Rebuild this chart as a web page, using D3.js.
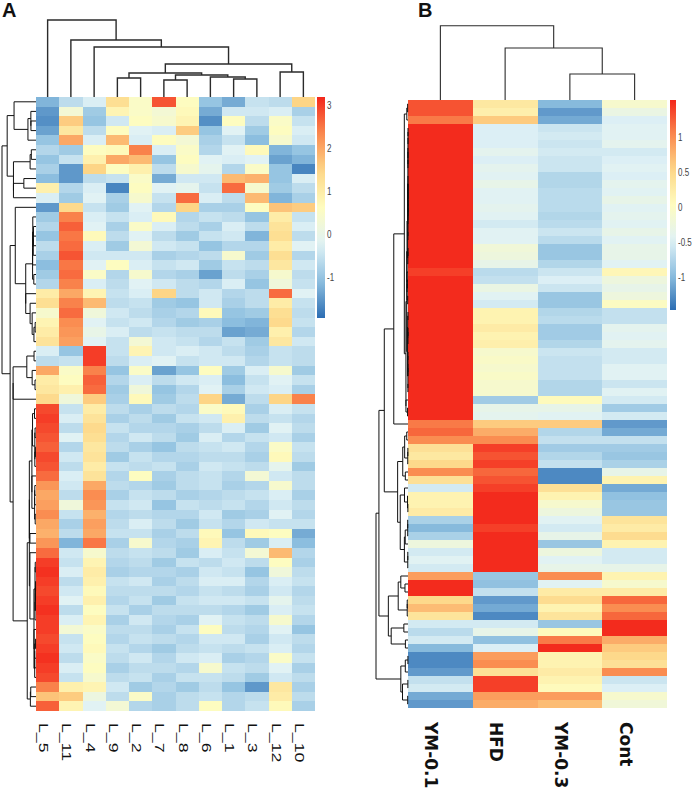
<!DOCTYPE html>
<html>
<head>
<meta charset="utf-8">
<script src="https://cdn.jsdelivr.net/npm/d3@7"></script>
<style>
body{margin:0;background:#fff;}
svg{display:block;font-family:"Liberation Sans",Arial,sans-serif;}
</style>
</head>
<body>
<svg id="chart" width="699" height="792"></svg>
<script>
// ---- panel A data (rows top to bottom, columns in dendrogram order)
var colsA = ["L_5","L_11","L_4","L_9","L_2","L_7","L_8","L_6","L_1","L_3","L_12","L_10"];
var rowsA = [
 [-1.2,-0.6,-0.3, 1.3, 0.5, 2.8, 0.6,-1.0,-1.3,-0.5,-0.6, 1.5],
 [-1.5, 0.3,-0.9, 0.8, 0.5, 0.3, 0.7,-1.3,-0.4,-0.4,-0.3,-0.8],
 [-1.6, 1.6,-1.0,-0.4, 0.6, 0.4, 0.8,-1.6, 0.6,-0.6, 0.5,-0.5],
 [-1.4, 1.1,-0.6, 0.6,-0.2,-0.3, 1.6,-1.0,-0.2,-0.9, 0.6,-0.3],
 [-1.0, 2.0,-0.3, 1.8,-0.3, 0.6, 0.3,-0.8,-0.5,-1.1, 0.4,-0.4],
 [-0.7,-0.9, 0.6, 0.7, 2.4,-0.3, 0.5,-0.7,-0.2, 0.7,-1.2,-1.0],
 [-1.0,-0.5, 0.9, 2.0, 1.8,-1.0, 0.6,-0.2,-0.3,-0.2,-1.4,-1.2],
 [-0.8,-1.5, 1.5, 0.6, 0.9,-0.6, 0.4,-0.1,-0.7, 0.5,-1.0,-1.7],
 [-1.1,-1.5,-0.6,-0.5, 0.5,-1.3,-0.4,-0.4, 1.8, 1.9,-1.0,-0.3],
 [ 0.9,-0.7,-0.3,-1.7, 0.6,-0.2,-0.1,-0.5, 2.6, 0.4,-0.9,-0.6],
 [-0.3,-0.9,-0.2,-0.8, 0.4,-0.5, 2.6,-0.3,-0.6, 1.8,-1.2,-0.8],
 [-1.5, 1.4,-0.5,-0.9,-0.2,-0.7, 1.5,-0.8,-0.8, 0.6, 1.7, 1.6],
 [-0.9, 2.4,-0.3,-0.5,-0.3, 0.7,-0.7,-0.5,-0.6,-1.0, 1.0,-0.5],
 [-0.7, 2.7,-0.2,-0.8, 0.5,-0.3,-0.6,-0.8,-0.3,-0.6, 1.2,-0.3],
 [-1.0, 2.5, 0.7,-0.6,-0.2,-0.6,-0.9,-0.5,-0.4,-1.2, 1.3,-0.6],
 [-0.6, 2.6,-0.3,-0.9, 0.3,-0.4,-0.5,-1.0,-0.7,-0.7, 1.0,-0.2],
 [-0.8, 2.8,-0.4,-0.4,-0.4,-0.8,-0.7,-0.6, 0.4,-0.9, 1.3,-0.7],
 [-1.1, 2.5,-0.2, 0.6,-0.3,-0.5,-0.4,-0.9,-0.5,-0.6, 1.1,-0.4],
 [-0.9, 2.6, 0.5,-0.7, 0.4,-0.7,-0.8,-1.4,-0.6,-0.8, 0.4,-0.6],
 [-0.7, 2.4,-0.3,-0.6,-0.2,-0.4,-0.6,-0.7,-0.3,-1.0, 0.2,-0.5],
 [ 1.0, 2.0, 0.8,-0.5,-0.3, 1.5,-0.6,-0.4,-0.7,-0.6, 2.6,-0.2],
 [ 1.3, 2.4, 1.8,-0.6,-0.5,-0.9,-1.0,-0.4,-0.8,-0.6, 1.0,-0.5],
 [ 0.4, 2.6, 0.2,-0.4,-0.6,-0.8,-0.7, 0.7,-1.0,-0.9, 1.3,-0.6],
 [ 0.8, 2.3,-0.2,-0.5,-0.4,-0.7,-0.9,-0.8,-1.1,-1.2, 1.4,-0.5],
 [ 1.0, 2.2, 0.0,-0.3,-0.6,-0.5,-0.6,-0.6,-1.4,-1.3, 0.9,-0.7],
 [ 1.2, 2.1,-0.2,-0.5, 0.3,-0.4,-0.5,-0.7,-0.5,-0.9, 1.1,-0.4],
 [-0.3,-1.0, 3.0,-0.5, 0.8,-0.4,-0.3,-0.4,-0.6,-0.8,-0.5,-0.6],
 [-0.6,-0.5, 3.0,-0.6,-0.3,-0.2,-0.5,-0.4,-0.4,-0.7,-0.5,-0.6],
 [ 2.0, 0.5, 2.4,-1.0, 0.5,-1.4,-1.0, 0.6,-0.9,-0.3, 0.4,-0.9],
 [ 1.0, 0.6, 2.7,-0.7,-0.3,-0.6,-0.4,-0.3,-1.1,-0.5,-0.2,-0.5],
 [ 1.1, 0.9, 2.6,-0.9, 0.2,-1.0,-0.7,-0.2,-0.8,-0.4,-0.3,-0.8],
 [ 1.4, 0.2, 1.6,-0.8, 0.7,-0.9,-0.6, 1.5,-1.3,-0.6, 1.5, 2.4],
 [ 2.9,-0.5, 1.0,-0.6,-0.8,-0.6,-0.7, 0.5, 0.7,-0.8,-0.3,-0.5],
 [ 3.0,-0.3, 1.2,-0.8,-0.6,-0.9,-0.5,-0.4, 0.9,-0.6,-0.5,-0.7],
 [ 2.9,-0.6, 1.4,-0.5,-0.7,-0.7,-0.8,-0.6,-0.3,-0.9,-0.2,-0.6],
 [ 2.8,-0.2, 1.3,-0.7,-0.4,-0.6,-0.9,-0.3,-0.7,-0.5,-0.4,-0.8],
 [ 2.7,-0.7, 1.1,-0.6,-0.8,-1.0,-0.6,-0.5,-0.4,-0.7, 0.5,-0.5],
 [ 2.9,-0.4, 1.2,-0.9,-0.5,-0.7,-0.7,-0.6,-0.6,-0.8, 0.7,-0.6],
 [ 2.8,-0.6, 1.0,-0.5,-0.6,-0.5,-0.8,-0.4,-0.5,-0.6,-0.1,-0.9],
 [ 2.6,-0.3, 1.2,-0.7, 0.6,-0.8,-0.6,-0.5,-0.7, 0.3,-0.4,-0.6],
 [ 2.2,-0.4, 2.0,-0.6,-0.7,-0.9,-0.6,-0.5,-0.8,-0.7, 0.4,-0.6],
 [ 2.0,-0.6, 2.3,-0.8,-0.5,-0.6,-0.8,-0.7,-0.6,-0.5,-0.3,-0.8],
 [ 2.1, 0.2, 2.2,-0.5,-0.4,-1.0,-0.5,-0.6,-0.5,-0.7,-0.4,-0.6],
 [ 2.3,-0.5, 1.9,-0.7,-0.6,-0.7,-0.7,-0.4,-0.9,-0.8,-0.2,-0.7],
 [ 2.0,-0.8, 2.1,-0.6,-0.3,-0.6,-0.9,-0.5,-0.7,-0.4,-0.5,-0.5],
 [ 1.9,-0.6, 2.0,-0.5,-0.5,-0.8,-0.6, 0.7,-1.0, 0.7, 0.6,-1.3],
 [ 2.2,-1.2, 2.5,-0.8, 0.4,-0.7,-0.8, 0.8,-0.6,-0.9,-0.3,-1.1],
 [ 2.6,-0.4, 0.4,-0.6,-0.5,-0.6,-0.9,-0.3,-0.5, 0.3, 1.8,-0.7],
 [ 3.0,-0.5, 0.8,-0.7,-0.6,-0.9,-0.5,-0.6,-0.4,-0.6, 0.6,-0.8],
 [ 3.1,-0.3, 1.0,-0.8,-0.7,-0.7,-0.8,-0.4,-0.5,-1.0, 0.2,-0.6],
 [ 3.0,-0.6, 0.9,-0.5,-0.4,-0.8,-0.6,-0.3,-0.3,-0.7,-0.3,-0.5],
 [ 2.9,-0.4, 0.7,-0.6,-0.6,-0.6,-0.7,-0.5,-0.6,-0.8,-0.4,-0.7],
 [ 3.0,-0.2, 0.9,-0.7,-0.5,-0.9,-0.5,-0.4,-0.4,-0.5,-0.1,-0.6],
 [ 3.1,-0.6, 0.6,-0.5,-0.8,-0.6,-0.6,-0.6,-0.7,-0.9,-0.3,-0.5],
 [ 3.0,-0.3, 0.8,-0.8,-0.4,-0.7,-0.8,-0.2,-0.5,-0.6, 0.4,-0.7],
 [ 3.0, 0.3, 0.5,-0.6,-0.6,-0.8,-0.5, 0.6,-0.6,-0.7,-0.2,-1.0],
 [ 2.9,-0.5, 0.6,-0.7,-0.5,-0.6,-0.7,-0.4,-0.4,-0.8,-0.4,-0.6],
 [ 3.0,-0.4, 0.7,-0.5,-0.7,-0.9,-0.6,-0.5,-0.6,-0.5,-0.3,-0.7],
 [ 3.1,-0.6, 0.5,-0.6,-0.4,-0.7,-0.4,-0.3,-0.8,-0.7, 0.5,-0.5],
 [ 3.0,-0.3, 0.6,-0.8,-0.6,-0.6,-0.7, 0.4,-0.5,-0.6,-0.2,-0.8],
 [ 2.9,-0.5, 0.4,-0.6,-0.5,-0.8,-0.5,-0.5,-0.6,-0.9,-0.4,-0.6],
 [ 2.4, 0.9, 0.8,-0.4,-0.9,-0.7,-0.9,-0.6,-1.0,-1.5, 1.1,-0.8],
 [ 1.7, 1.6, 0.1,-0.6, 0.5,-0.8,-0.6,-0.5,-0.7,-0.6, 1.0,-0.6],
 [ 2.7, 0.8,-0.2, 0.3,-0.7,-0.8,-0.6, 0.6,-0.7,-0.5, 0.7,-0.8]
];
var rangeA = [-1.95, 3.19];
var legendTicksA = [3, 2, 1, 0, -1];
// column dendrogram A, merge heights relative to the root
var colTreeA = {h:1.0, children:[{name:"L_5"},{h:0.74, children:[{name:"L_11"},{h:0.649, children:[{name:"L_4"},
  {h:0.429, children:[
    {h:0.312, children:[{h:0.247, children:[{name:"L_9"},{name:"L_2"}]},
      {h:0.286, children:[{h:0.221, children:[{name:"L_7"},{name:"L_8"}]},
        {h:0.26, children:[{name:"L_6"},{h:0.234, children:[{name:"L_1"},{name:"L_3"}]}]}]}]},
    {h:0.325, children:[{name:"L_12"},{name:"L_10"}]}]}]}]}]};

// ---- panel B data
var colsB = ["YM-0.1","HFD","YM-0.3","Cont"];
var rowsB = [
 [1.3, 0.3,-1.0,-0.1],[1.3, 0.2,-1.2,-0.3],[1.1, 0.6,-1.1,-0.5],[1.5,-0.5,-0.6,-0.45],
 [1.5,-0.5,-0.55,-0.45],[1.5,-0.5,-0.6,-0.4],[1.5,-0.4,-0.55,-0.55],[1.5,-0.5,-0.6,-0.5],
 [1.5,-0.4,-0.6,-0.45],[1.5,-0.45,-0.75,-0.5],[1.5,-0.35,-0.75,-0.4],[1.5,-0.45,-0.7,-0.45],
 [1.5,-0.45,-0.7,-0.35],[1.5,-0.4,-0.7,-0.45],[1.5,-0.45,-0.75,-0.4],[1.5,-0.55,-0.7,-0.45],
 [1.5,-0.45,-0.6,-0.35],[1.5,-0.45,-0.7,-0.45],[1.5,-0.2,-0.9,-0.35],[1.5,-0.25,-0.9,-0.35],
 [1.5,-0.35,-0.75,-0.45],[1.4,-0.7,-0.6, 0.1],[1.5,-0.65,-0.5,-0.25],[1.5,-0.3,-0.6,-0.35],
 [1.5,-0.45,-0.9,-0.25],[1.5,-0.55,-0.9, 0.0],[1.5, 0.15,-0.75,-0.65],[1.5, 0.15,-0.7,-0.65],
 [1.5, 0.25,-0.85,-0.4],[1.5, 0.15,-0.85,-0.45],[1.5, 0.2,-0.75,-0.4],[1.5,-0.1,-0.6,-0.55],
 [1.5,-0.05,-0.65,-0.55],[1.5,-0.1,-0.65,-0.45],[1.5,-0.05,-0.65,-0.45],[1.5,-0.1,-0.75,-0.6],
 [1.5,-0.1,-0.75,-0.45],[1.5,-0.85, 0.05,-0.55],[1.5,-0.35,-0.35,-0.85],[1.5,-0.4,-0.45,-0.55],
 [1.1, 0.6, 0.6,-1.2],[1.2, 0.8,-0.75,-1.1],[1.0, 1.0,-0.65,-0.65],[0.4, 1.4,-0.85,-0.85],
 [0.3, 1.3,-0.75,-0.9],[0.5, 1.4,-0.65,-0.8],[1.0, 1.2,-1.3,-0.35],[0.4, 1.3,-1.3, 0.15],
 [-0.55,1.4, 0.4,-1.1],[0.15,1.5, 0.15,-0.95],[0.15,1.5,-0.1,-0.9],[0.25,1.5,-0.25,-0.9],
 [-0.8,1.5,-0.45, 0.35],[-1.0,1.4,-0.55, 0.25],[-0.8,1.5,-0.35, 0.45],[-0.25,1.5,-0.9, 0.15],
 [-0.55,1.5,-0.25,-0.55],[-0.45,1.5,-0.45,-0.55],[-0.55,1.5,-0.35,-0.35],[0.9,-0.9, 1.0, 0.15],
 [1.5,-0.95,-0.45,-0.1],[1.5,-0.65, 0.25, 0.25],[0.5,-1.2, 0.45, 1.2],[0.7,-1.1, 0.15, 1.0],
 [0.35,-1.3, 0.35, 1.2],[-0.55,-0.55,-0.9, 1.5],[-0.7,-0.35, 0.05, 1.5],[-0.55,-0.95, 1.1, 0.8],
 [-1.0,-0.5, 1.5, 0.6],[-1.3, 0.9, 0.15, 0.5],[-1.3, 1.0, 0.15, 0.4],[-1.2, 0.4, 0.25, 1.0],
 [-0.65,1.4, 0.15,-0.6],[-0.55,1.4, 0.05,-0.5],[-1.1, 0.9, 0.9,-0.1],[-1.2, 0.8, 0.7,-0.2]
];
var rangeB = [-1.47, 1.52];
var legendTicksB = [1, 0.5, 0, -0.5, -1];
var colTreeB = {h:1.0, children:[{name:"YM-0.1"},{h:0.70, children:[{name:"HFD"},
  {h:0.35, children:[{name:"YM-0.3"},{name:"Cont"}]}]}]};

var palette = ["#2c6db3","#8dbfdf","#e0f2f6","#fefcbf","#fdd788","#fa8a4f","#f3271b"];

var svg = d3.select("#chart");
var defs = svg.append("defs");

function colorScale(range){
	var step = (range[1]-range[0])/(palette.length-1);
	return d3.scaleLinear()
		.domain(palette.map(function(d,i){ return range[0]+i*step; }))
		.range(palette)
		.clamp(true);
}

// order-preserving average linkage for the row tree (rows stay in drawn order)
function rowTree(rows){
	var D = rows.map(function(r){
		return rows.map(function(s){ return Math.sqrt(d3.sum(r, function(v,k){ return (v-s[k])*(v-s[k]); })); });
	});
	var clusters = rows.map(function(r,i){ return {members:[i], h:0, pos:i+0.5}; });
	while(clusters.length>1){
		var best = Infinity, bi = 0;
		for(var k=0;k<clusters.length-1;k++){
			var a = clusters[k], b = clusters[k+1], s = 0;
			a.members.forEach(function(i){ b.members.forEach(function(j){ s += D[i][j]; }); });
			s /= a.members.length*b.members.length;
			if(s<best){ best = s; bi = k; }
		}
		var a = clusters[bi], b = clusters[bi+1];
		clusters.splice(bi, 2, {members:a.members.concat(b.members), h:Math.max(best,a.h,b.h), kids:[a,b], pos:(a.pos+b.pos)/2});
	}
	return clusters[0];
}

function drawPanel(o){
	var g = svg.append("g");
	var color = colorScale(o.range);

	var x = d3.scaleBand().domain(o.cols).range([o.left, o.right]);
	var y = d3.scaleBand().domain(d3.range(o.rows.length)).range([o.top, o.bottom]);

	// cells
	o.rows.forEach(function(row, i){
		g.selectAll(null)
			.data(row)
			.enter().append("rect")
			.attr("x", function(d,k){ return x(o.cols[k]); })
			.attr("y", y(i))
			.attr("width", x.bandwidth()+0.4)
			.attr("height", y.bandwidth()+0.4)
			.attr("fill", function(d){ return color(d); })
			.attr("shape-rendering", "crispEdges");
	});

	// column dendrogram
	var root = d3.hierarchy(o.colTree);
	var hy = d3.scaleLinear().domain([0, 1]).range([o.top, o.treeTop]);
	root.eachAfter(function(n){
		if(!n.children){ n.px = x(n.data.name)+x.bandwidth()/2; n.py = o.top; }
		else { n.px = (n.children[0].px+n.children[1].px)/2; n.py = hy(n.data.h); }
	});
	var tg = g.append("g").attr("fill","none").attr("stroke","#2b2b2b").attr("stroke-width", o.treeStroke);
	root.descendants().filter(function(n){ return n.children; }).forEach(function(n){
		var c0 = n.children[0], c1 = n.children[1];
		tg.append("path").attr("d",
			"M"+c0.px+","+c0.py+"V"+n.py+"H"+c1.px+"V"+c1.py);
	});

	// row dendrogram
	var rt = rowTree(o.rows);
	var rx = d3.scalePow().exponent(o.rowExp).domain([0, rt.h]).range([o.left, o.rowRoot]);
	var ry = d3.scaleLinear().domain([0, o.rows.length]).range([o.top, o.bottom]);
	var rg = g.append("g").attr("fill","none").attr("stroke","#111").attr("stroke-width",1);
	(function walk(n){
		if(!n.kids) return;
		var a = n.kids[0], b = n.kids[1];
		rg.append("path").attr("d",
			"M"+rx(a.h)+","+ry(a.pos)+"H"+rx(n.h)+"V"+ry(b.pos)+"H"+rx(b.h));
		walk(a); walk(b);
	})(rt);

	// legend
	var gid = "grad"+o.id;
	var lg = defs.append("linearGradient").attr("id", gid).attr("x1",0).attr("x2",0).attr("y1",0).attr("y2",1);
	d3.range(0, 1.0001, 0.05).forEach(function(t){
		lg.append("stop").attr("offset", t).attr("stop-color", color(o.range[1]-t*(o.range[1]-o.range[0])));
	});
	var ly = d3.scaleLinear().domain([o.range[1], o.range[0]]).range([o.top, o.legBottom]);
	g.append("rect").attr("x", o.legX).attr("y", o.top).attr("width", o.legW)
		.attr("height", o.legBottom-o.top).attr("fill", "url(#"+gid+")");
	g.selectAll(".lt").data(o.ticks).enter().append("text")
		.attr("transform", function(d){ return "translate(" + (o.legX+o.legW+2) + "," + ly(d) + ") scale(0.8,1.15)"; })
		.attr("dy", "0.35em").attr("font-size", 10).attr("fill", "#444")
		.text(function(d){ return d; });

	// column labels, reading downward
	g.selectAll(".cl").data(o.cols).enter().append("text")
		.attr("transform", function(d){
			return "translate(" + (x(d)+x.bandwidth()/2+o.labOffset) + "," + o.labTop + ") rotate(90) scale(" + o.labStretch + ",1)";
		})
		.attr("dy", "0.35em")
		.attr("font-size", o.labSize)
		.attr("font-weight", o.labWeight)
		.attr("font-family", o.labFont)
		.attr("fill", "#111")
		.text(function(d){ return d; });

	// panel letter
	svg.append("text").attr("x", o.letterX).attr("y", 17)
		.attr("font-size", 20).attr("font-weight", "bold").attr("fill", "#111")
		.text(o.letter);
}

drawPanel({id:"A", letter:"A", letterX:2, cols:colsA, rows:rowsA, range:rangeA, ticks:legendTicksA, colTree:colTreeA,
	left:36, right:315, top:97, bottom:711, treeTop:20, treeStroke:1.4, rowRoot:2, rowExp:2,
	legX:317, legW:8, legBottom:318,
	labTop:723, labOffset:-4, labSize:12.5, labWeight:"normal", labFont:"Liberation Sans, Arial, sans-serif", labStretch:1.42});

drawPanel({id:"B", letter:"B", letterX:418, cols:colsB, rows:rowsB, range:rangeB, ticks:legendTicksB, colTree:colTreeB,
	left:408, right:667, top:100, bottom:708, treeTop:25.7, treeStroke:1.1, rowRoot:376, rowExp:2,
	legX:670, legW:6, legBottom:310,
	labTop:722, labOffset:-9, labSize:17, labWeight:"bold", labFont:"DejaVu Sans, sans-serif", labStretch:1});
</script>
</body>
</html>
